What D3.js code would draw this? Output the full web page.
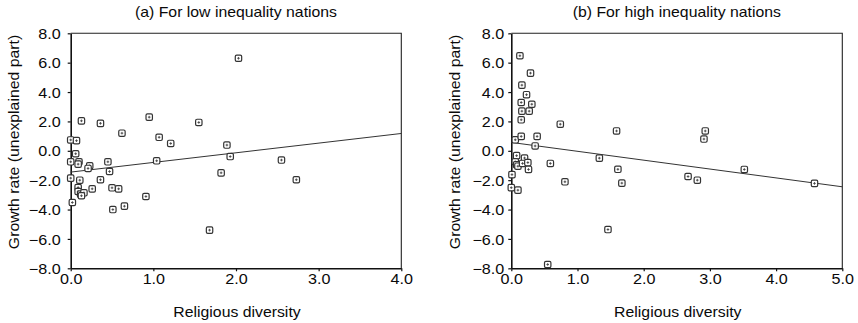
<!DOCTYPE html>
<html>
<head>
<meta charset="utf-8">
<script src="https://cdn.jsdelivr.net/npm/d3@7"></script>
<style>
  html, body { margin: 0; padding: 0; background: #fff; }
  svg { display: block; }
  text { font-family: "Liberation Sans", Arial, Helvetica, sans-serif; fill: #0a0a0a; }
</style>
</head>
<body>
<svg id="chart" width="858" height="323"></svg>
<script>
// Panel (a): low inequality nations
const lowDiversity = [2.03, 0.13, 0.36, 0.95, 1.55, 0.62, 1.07, 1.21, 1.89, 1.93,
  2.55, 1.04, 1.82, 2.73, 1.68, 0.91, 0.65, 0.51, 0.58, 0.50,
  0.26, 0.36, 0.47, 0.45, 0.23, 0.21, 0.00, 0.07, 0.06, 0.00,
  0.10, 0.09, 0.00, 0.11, 0.02, 0.09, 0.09, 0.12, 0.16, 0.13];
const lowGrowth = [6.30, 2.04, 1.87, 2.29, 1.93, 1.20, 0.92, 0.50, 0.39, -0.39,
  -0.63, -0.68, -1.50, -1.97, -5.40, -3.11, -3.77, -4.00, -2.59, -2.52,
  -2.59, -1.97, -1.41, -0.75, -1.02, -1.20, 0.74, 0.69, -0.20, -0.75,
  -0.75, -0.91, -1.86, -2.00, -3.52, -2.50, -2.77, -2.95, -2.86, -3.06];
const lowFitX = [0, 4];
const lowFitY = [-1.45, 1.18];

// Panel (b): high inequality nations
const highDiversity = [0.13, 0.29, 0.16, 0.23, 0.15, 0.31, 0.16, 0.27, 0.15, 0.74,
  1.59, 2.93, 2.91, 0.06, 0.15, 0.39, 0.36, 0.08, 0.20, 1.33,
  0.06, 0.08, 0.10, 0.17, 0.25, 0.26, 0.59, 1.61, 3.52, 0.01,
  2.67, 2.81, 0.81, 1.67, 4.58, 0.00, 0.10, 1.46, 0.55];
const highGrowth = [6.47, 5.29, 4.47, 3.82, 3.29, 3.17, 2.70, 2.70, 2.11, 1.81,
  1.35, 1.35, 0.80, 0.75, 0.98, 0.98, 0.33, -0.33, -0.49, -0.50,
  -0.75, -0.95, -1.05, -0.86, -0.80, -1.27, -0.86, -1.26, -1.27, -1.62,
  -1.75, -2.00, -2.11, -2.20, -2.22, -2.51, -2.68, -5.36, -7.74];
const highFitX = [0, 5];
const highFitY = [0.57, -2.45];

// Axis ticks and labels
const yTicks = [-8, -6, -4, -2, 0, 2, 4, 6, 8];
const lowXTicks = [0, 1, 2, 3, 4];
const highXTicks = [0, 1, 2, 3, 4, 5];
const titles = ["(a) For low inequality nations", "(b) For high inequality nations"];
const xTitle = "Religious diversity";
const yTitle = "Growth rate (unexplained part)";

const SX = 1.13; // horizontal stretch of the lettering
const fmt = d3.format(".1f");
const svg = d3.select("#chart");

const panels = [
  { left: 70.7, right: 401.3, xMax: 4, xs: lowDiversity, ys: lowGrowth, fx: lowFitX, fy: lowFitY,
    xTicks: lowXTicks, title: titles[0], yLabelX: 14, tickGap: 10 },
  { left: 511.3, right: 842.3, xMax: 5, xs: highDiversity, ys: highGrowth, fx: highFitX, fy: highFitY,
    xTicks: highXTicks, title: titles[1], yLabelX: 455, tickGap: 7 }
];
const plotTop = 33.3, plotBottom = 268.3;

function stretchedText(g, x, y, str, anchor, rotate) {
  const t = g.append("g").attr("transform",
    `translate(${x},${y})` + (rotate ? ` rotate(${rotate})` : "") + ` scale(${SX},1)`);
  return t.append("text").attr("text-anchor", anchor).attr("font-size", 14).text(str);
}

panels.forEach(p => {
  const x = d3.scaleLinear().domain([0, p.xMax]).range([p.left, p.right]);
  const y = d3.scaleLinear().domain([-8, 8]).range([plotBottom, plotTop]);
  const g = svg.append("g");

  // frame (top and right)
  g.append("path")
    .attr("d", `M${p.left},${plotTop}H${p.right}V${plotBottom}`)
    .attr("fill", "none").attr("stroke", "#222").attr("stroke-width", 1.1);

  // x axis
  const xa = g.append("g").attr("transform", `translate(0,${plotBottom})`)
    .call(d3.axisBottom(x).tickValues(p.xTicks).tickFormat(fmt).tickSize(3).tickSizeOuter(0).tickPadding(4));
  xa.select(".domain").attr("stroke", "#111").attr("stroke-width", 1.6);
  xa.selectAll(".tick line").attr("stroke", "#111").attr("stroke-width", 1.2);
  xa.selectAll(".tick text").attr("font-size", 14.3).attr("fill", "#0a0a0a")
    .attr("font-family", "Liberation Sans, Arial, sans-serif")
    .attr("transform", `scale(${SX},1)`).attr("y", 6);

  // y axis
  const ya = g.append("g").attr("transform", `translate(${p.left},0)`)
    .call(d3.axisLeft(y).tickValues(yTicks).tickFormat(fmt).tickSize(3).tickSizeOuter(0));
  ya.select(".domain").attr("stroke", "#111").attr("stroke-width", 1.6);
  ya.selectAll(".tick line").attr("stroke", "#111").attr("stroke-width", 1.2);
  ya.selectAll(".tick text").attr("font-size", 14.3).attr("fill", "#0a0a0a")
    .attr("font-family", "Liberation Sans, Arial, sans-serif")
    .attr("transform", `scale(${SX},1)`).attr("x", -p.tickGap / SX).attr("dy", "0.36em");

  // fitted line
  g.append("line")
    .attr("x1", x(p.fx[0])).attr("y1", y(p.fy[0]))
    .attr("x2", x(p.fx[1])).attr("y2", y(p.fy[1]))
    .attr("stroke", "#333").attr("stroke-width", 1);

  // markers: small boxed points
  const pts = g.append("g").selectAll("g").data(p.xs.map((d, i) => [d, p.ys[i]]))
    .join("g").attr("transform", d => `translate(${x(d[0])},${y(d[1])})`);
  pts.append("rect").attr("x", -3.2).attr("y", -3.2).attr("width", 6.4).attr("height", 6.4)
    .attr("rx", 1.4).attr("fill", "#fff").attr("stroke", "#333").attr("stroke-width", 1.2);
  pts.append("path").attr("d", "M-1.3,0H1.3M0,-1.3V1.3")
    .attr("stroke", "#444").attr("stroke-width", 0.9);

  // titles
  const cx = (p.left + p.right) / 2;
  stretchedText(g, cx, 17, p.title, "middle");
  stretchedText(g, cx + 1, 317, xTitle, "middle");
  stretchedText(g, p.yLabelX + 5, 142, yTitle, "middle", -90);
});
</script>
</body>
</html>
